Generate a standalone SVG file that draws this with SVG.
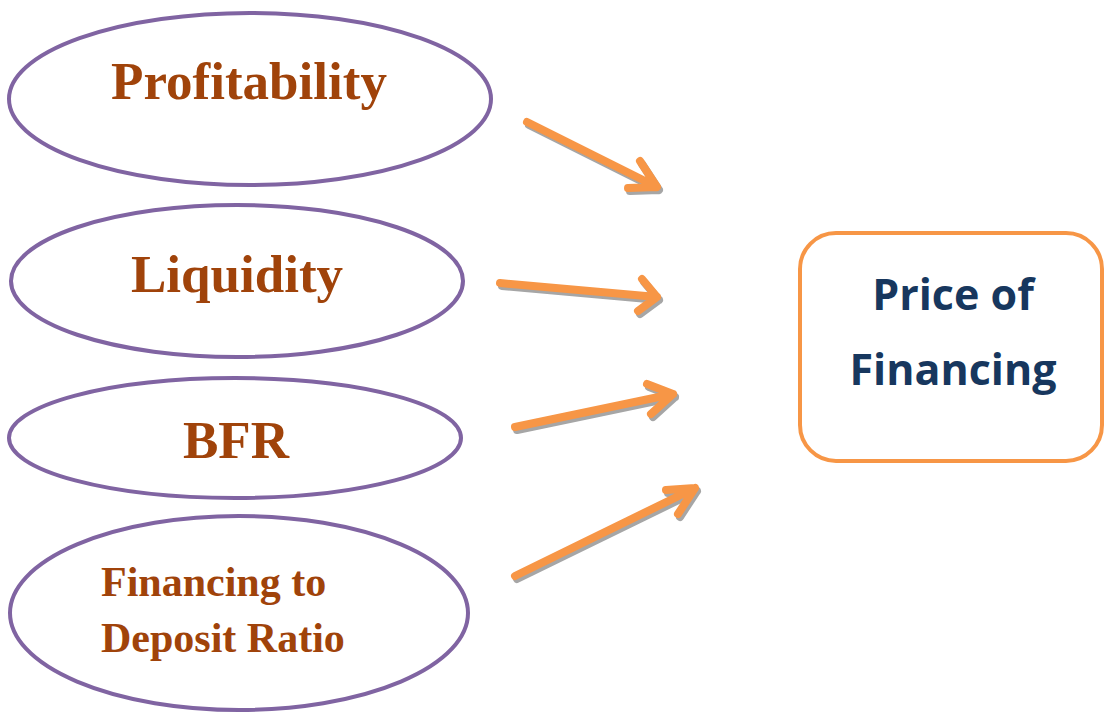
<svg xmlns="http://www.w3.org/2000/svg" width="1104" height="713" viewBox="0 0 1104 713">
<style>
.ell{fill:#fff;stroke:#8064a2;stroke-width:4}
.lbl{font-family:"Liberation Serif",serif;font-weight:bold;fill:#a0430a}
.arr{fill:none;stroke:#f79646;stroke-width:8;stroke-linecap:round;stroke-linejoin:round}
.sh{fill:none;stroke:#a6a6a6;stroke-width:8;stroke-linecap:round;stroke-linejoin:round}
.box{fill:#fff;stroke:#f79646;stroke-width:4}
.pt{font-family:"Open Sans","Noto Sans",sans-serif;font-weight:bold;fill:#17375e;font-size:43px}
</style>
<rect width="1104" height="713" fill="#fff"/>
<g id="n1"><ellipse class="ell" cx="250" cy="99" rx="241" ry="86"/><text class="lbl" x="249" y="99" font-size="53" text-anchor="middle">Profitability</text></g>
<g id="n2"><ellipse class="ell" cx="237" cy="281" rx="226" ry="76"/><text class="lbl" x="237" y="292" font-size="53" text-anchor="middle">Liquidity</text></g>
<g id="n3"><ellipse class="ell" cx="235" cy="438" rx="226" ry="60"/><text class="lbl" x="236" y="458" font-size="53" text-anchor="middle">BFR</text></g>
<g id="n4"><ellipse class="ell" cx="239" cy="613" rx="229" ry="97"/><text class="lbl" x="101" y="596" font-size="42">Financing to</text><text class="lbl" x="101" y="652" font-size="42">Deposit Ratio</text></g>
<g id="n5"><rect class="box" x="800" y="233" width="302" height="228" rx="36"/><text class="pt" x="953" y="310" text-anchor="middle">Price of</text><text class="pt" x="953" y="385" text-anchor="middle">Financing</text></g>
<g id="connectors">
<g transform="translate(2,3)">
<path class="sh" d="M527 122 L657 187 M640 161 L657 187 L628 188"/>
<path class="sh" d="M500 283 L657 297 M642 279 L657 297 L638 311"/>
<path class="sh" d="M515 427 L673 394 M647 384 L673 394 L651 414"/>
<path class="sh" d="M515 576 L695 488 M666 490 L695 488 L678 514"/>
</g>
<path class="arr" d="M527 122 L657 187 M640 161 L657 187 L628 188"/>
<path class="arr" d="M500 283 L657 297 M642 279 L657 297 L638 311"/>
<path class="arr" d="M515 427 L673 394 M647 384 L673 394 L651 414"/>
<path class="arr" d="M515 576 L695 488 M666 490 L695 488 L678 514"/>
</g>
</svg>
